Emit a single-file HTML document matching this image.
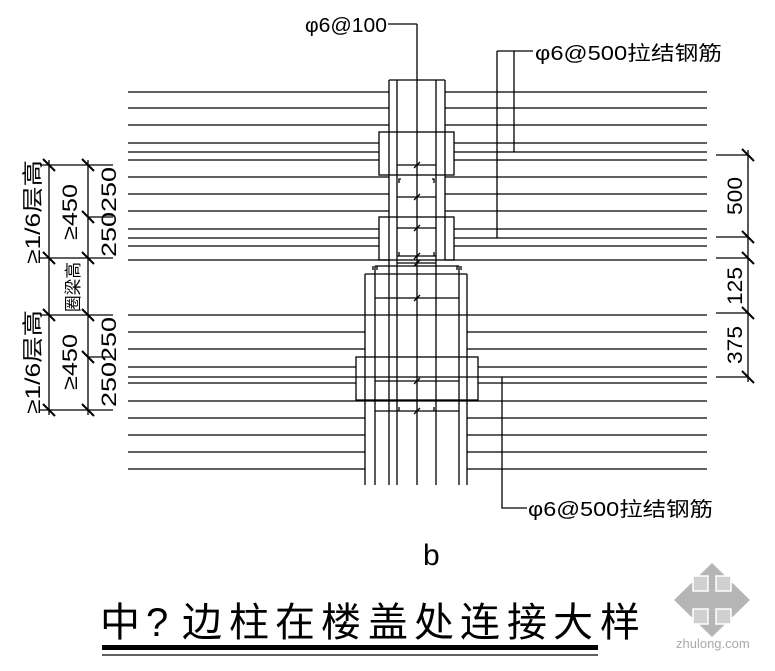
<!DOCTYPE html>
<html><head><meta charset="utf-8"><style>
html,body{margin:0;padding:0;background:#fff;}
svg{display:block;}
text{font-family:"Liberation Sans","Noto Sans CJK SC",sans-serif;font-weight:normal;}
</style></head><body>
<svg width="775" height="671" viewBox="0 0 775 671" xmlns="http://www.w3.org/2000/svg">
<g stroke="#000" stroke-width="1.3" fill="none">
<path d="M128 92H389M128 108H389M128 125H389M128 143H379M128 152H379M128 160H379M128 177H389M128 194H389M128 211H389M128 229H379M128 238H379M128 246H379M128 260H389"/>
<path d="M445 92H707M445 108H707M445 125H707M454 143H707M454 152H707M454 160H707M445 177H707M445 194H707M445 211H707M454 229H707M454 238H707M454 246H707M445 260H707"/>
<path d="M128 315H707M128 332H365M467 332H707M128 349H365M467 349H707M128 367H356M478 367H707M128 377H707M128 383H356M478 383H707M128 401H707M128 418H365M467 418H707M128 435H365M467 435H707M128 452H365M467 452H707M128 469H365M467 469H707"/>
<path d="M389 80H445M389 80V260M445 80V260M397 80V485M436 80V485M417 24V485M388 24H417"/>
<rect x="379" y="132" width="75" height="43"/>
<rect x="379" y="217" width="75" height="43"/>
<path d="M397 165H436M397 197H436M397 228H436M397 256H436M397 263H436"/>
<path d="M399 183V179H401M434 183V179H432M399 252V256M434 252V256"/>
<path d="M365 274H467M365 274V485M467 274V485M375 266V485M459 266V485M389 260V485M375 266H459M373 266V270M377 266V270M457 266V270M461 266V270"/>
<rect x="356" y="357" width="122" height="43"/>
<path d="M375 298H459M375 381H459M375 411H459M399 411V407M434 411V407"/>
<path d="M414 168L420 162M414 200L420 194M414 231L420 225M414 259L420 253M414 266L420 260M414 301L420 295M414 384L420 378M414 414L420 408"/>
<path d="M497 51V238M514 51V152M497 51H533"/>
<path d="M502 377V508H527"/>
<path d="M748 150V382M716 155H748M716 237H748M716 258H748M716 313H748M716 377H748"/>
<path d="M742 149L754 161M742 231L754 243M742 252L754 264M742 307L754 319M742 371L754 383" stroke-width="2"/>
<path d="M49 160V415M88 160V415M40 165H113M40 258H113M88 217H113M40 315H113M88 357H113M40 410H113"/>
<path d="M43 159L55 171M43 252L55 264M43 309L55 321M43 404L55 416M82 159L94 171M82 211L94 223M82 252L94 264M82 309L94 321M82 351L94 363M82 404L94 416" stroke-width="2"/>
<path d="M102 655H598"/>
</g>
<rect x="102" y="645" width="496" height="5" fill="#000"/>
<g font-size="20" fill="#000">
<text x="305" y="32" textLength="82" lengthAdjust="spacingAndGlyphs">φ6@100</text>
<text x="535" y="60" textLength="187" lengthAdjust="spacingAndGlyphs">φ6@500拉结钢筋</text>
<text x="528" y="516" textLength="185" lengthAdjust="spacingAndGlyphs">φ6@500拉结钢筋</text>
</g>
<g font-size="21" fill="#000">
<text transform="translate(742,196) rotate(-90)" text-anchor="middle" textLength="38" lengthAdjust="spacingAndGlyphs">500</text>
<text transform="translate(742,286) rotate(-90)" text-anchor="middle" textLength="38" lengthAdjust="spacingAndGlyphs">125</text>
<text transform="translate(742,345) rotate(-90)" text-anchor="middle" textLength="38" lengthAdjust="spacingAndGlyphs">375</text>
<text transform="translate(40,212) rotate(-90)" text-anchor="middle" textLength="104" lengthAdjust="spacingAndGlyphs">≥1/6层高</text>
<text transform="translate(40,362) rotate(-90)" text-anchor="middle" textLength="104" lengthAdjust="spacingAndGlyphs">≥1/6层高</text>
<text transform="translate(77,212) rotate(-90)" text-anchor="middle" textLength="56" lengthAdjust="spacingAndGlyphs">≥450</text>
<text transform="translate(77,362) rotate(-90)" text-anchor="middle" textLength="56" lengthAdjust="spacingAndGlyphs">≥450</text>
<text transform="translate(116,212) rotate(-90)" text-anchor="middle" textLength="90" lengthAdjust="spacingAndGlyphs">250250</text>
<text transform="translate(116,362) rotate(-90)" text-anchor="middle" textLength="90" lengthAdjust="spacingAndGlyphs">250250</text>
<text transform="translate(79,287) rotate(-90)" text-anchor="middle" font-size="17" textLength="50" lengthAdjust="spacingAndGlyphs">圈梁高</text>
</g>
<text x="423" y="565" font-size="30" fill="#000">b</text>
<g font-size="40" fill="#000" font-family="'Noto Sans CJK SC',sans-serif" font-weight="200">
<text x="100" y="636">中</text><text x="146" y="636">?</text><text x="182" y="636">边</text><text x="229" y="636">柱</text><text x="275" y="636">在</text><text x="321" y="636">楼</text><text x="368" y="636">盖</text><text x="414" y="636">处</text><text x="460" y="636">连</text><text x="507" y="636">接</text><text x="553" y="636">大</text><text x="600" y="636">样</text>
</g>
<g fill="#b5b5b5">
<polygon points="712,563 750,600 712,637 674,600"/>
</g>
<g fill="#d0d0d0" stroke="#fff" stroke-width="1.5">
<rect x="693" y="576" width="15" height="15"/><rect x="716" y="576" width="15" height="15"/>
<rect x="693" y="609" width="15" height="15"/><rect x="716" y="609" width="15" height="15"/>
</g>
<text x="676" y="648" font-size="13" fill="#aaa">zhulong.com</text>
</svg>
</body></html>
